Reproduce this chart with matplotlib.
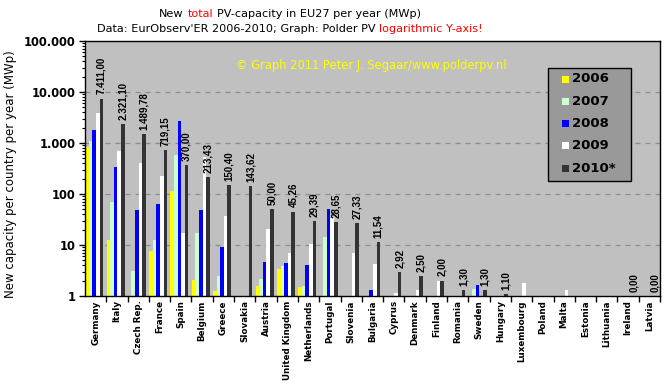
import matplotlib
matplotlib.use("Agg")
import matplotlib.pyplot as plt
import numpy as np
from matplotlib.patches import Rectangle
from matplotlib.ticker import FixedLocator, FixedFormatter, LogLocator, NullFormatter

# ---------------------------------------------------------------------------
# Data (MWp newly installed per year)
# ---------------------------------------------------------------------------
countries = [
    "Germany", "Italy", "Czech Rep.", "France", "Spain", "Belgium", "Greece",
    "Slovakia", "Austria", "United Kingdom", "Netherlands", "Portugal",
    "Slovenia", "Bulgaria", "Cyprus", "Denmark", "Finland", "Romania",
    "Sweden", "Hungary", "Luxembourg", "Poland", "Malta", "Estonia",
    "Lithuania", "Ireland", "Latvia",
]
years = ["2006", "2007", "2008", "2009", "2010*"]
v2006 = [830, 12.5, 0, 7.6, 114, 2.1, 1.27, 0, 1.6, 3.4, 1.5, 0, 0, 0, 0,
         0, 0, 0, 0, 0, 0, 0, 0, 0, 0, 0, 0]
v2007 = [1100, 70, 3.1, 12.5, 580, 17.4, 2.5, 0, 2.15, 3.9, 1.57, 14.4, 0, 0, 0,
         0, 0, 0, 1.37, 0, 0, 0, 0, 0, 0, 0, 0]
v2008 = [1800, 338, 49, 63, 2750, 49, 9.1, 0, 4.6, 4.4, 4.1, 51, 0, 1.3, 0,
         0, 0, 0, 1.64, 0, 0, 0, 0, 0, 0, 0, 0]
v2009 = [3900, 700, 405, 225, 17.4, 520, 37, 0, 20.5, 7.0, 10.4, 34, 7.0, 4.2, 1.15,
         1.3, 1.97, 0, 0, 0, 1.8, 0, 1.3, 0, 0, 0, 0]
# None = no bar and no value label
v2010 = [7411.00, 2321.10, 1489.78, 719.15, 370.00, 213.43, 150.40, 143.62, 50.00,
         45.26, 29.39, 28.65, 27.33, 11.54, 2.92, 2.50, 2.00, 1.30, 1.30, 1.10,
         None, None, None, None, None, 0.00, 0.00]
series = [v2006, v2007, v2008, v2009, v2010]
colors = ["#FFFF00", "#CCFFCC", "#0000FF", "#FFFFFF", "#333333"]

ytick_vals = [1, 10, 100, 1000, 10000, 100000]
ytick_labels = ["1", "10", "100", "1.000", "10.000", "100.000"]


def nl_fmt(v):
    """7411.0 -> '7.411,00' (Dutch number formatting)."""
    s = f"{v:,.2f}"
    return s.replace(",", "#").replace(".", ",").replace("#", ".")


def colored_line(fig, x_center, y, pieces, **kw):
    """One text line built from differently coloured pieces, centred on x."""
    r = fig.canvas.get_renderer()

    def width(s):
        t = fig.text(0, 0, s, **kw)
        w = t.get_window_extent(r).width
        t.remove()
        return w / fig.bbox.width

    full = "".join(p for p, _ in pieces)
    left = x_center - width(full) / 2
    acc = ""
    for s, c in pieces:
        acc += s
        # right end of this piece measured on the running prefix (keeps spaces)
        x = left + width(acc.rstrip()) - width(s.strip())
        fig.text(x, y, s.strip(), color=c, ha="left", va="center", **kw)


# ---------------------------------------------------------------------------
# Figure
# ---------------------------------------------------------------------------
W, H = 671, 391
fig = plt.figure(figsize=(W / 100, H / 100), dpi=100, facecolor="white")
ax = fig.add_axes([85 / W, 1 - 296 / H, (660 - 85) / W, (296 - 41) / H])
ax.set_facecolor("#C0C0C0")
ax.set_yscale("log")
ax.set_ylim(1, 100000)
ax.set_xlim(0, len(countries))

idx = np.arange(len(countries))
bw = 0.17
for j, (vals, col) in enumerate(zip(series, colors)):
    h = np.array([v if v else np.nan for v in vals], dtype=float)
    ax.bar(idx + 0.01 + bw * j, h - 1, bottom=1, width=bw, align="edge",
           color=col, edgecolor="none", zorder=2)

# value labels above 2010 bars
for i, v in enumerate(v2010):
    if v is None:
        continue
    ax.annotate(nl_fmt(v), xy=(i + 0.01 + bw * 4.5, max(v, 1.0)),
                xytext=(0, 3), textcoords="offset points", rotation=90,
                ha="center", va="bottom", fontsize=7, fontweight="bold",
                family="Liberation Sans", zorder=4)

# grid
for g in ytick_vals[1:-1]:
    ax.axhline(g, color="#8C8C8C", lw=0.9, ls=(0, (4, 4)), zorder=1)

# y axis
ax.yaxis.set_major_locator(FixedLocator(ytick_vals))
ax.yaxis.set_major_formatter(FixedFormatter(ytick_labels))
ax.yaxis.set_minor_locator(LogLocator(base=10, subs=np.arange(2, 10)))
ax.yaxis.set_minor_formatter(NullFormatter())
ax.tick_params(axis="y", which="major", length=4, width=1, direction="out",
               labelsize=8.3, pad=3)
ax.tick_params(axis="y", which="minor", length=2.5, width=0.8, direction="out")
for t in ax.get_yticklabels():
    t.set_fontweight("bold")

# x axis: ticks between groups, labels at the centre
ax.set_xticks(np.arange(1, len(countries) + 1))
ax.set_xticklabels([])
ax.set_xticks(idx + 0.5, minor=True)
ax.set_xticklabels(countries, minor=True, rotation=90, fontsize=6.3,
                   fontweight="bold")
ax.tick_params(axis="x", which="major", length=4, width=1, direction="out")
ax.tick_params(axis="x", which="minor", length=0, pad=3)

for sp in ax.spines.values():
    sp.set_linewidth(1)
    sp.set_color("black")

# legend (drawn by hand)
lx0, lx1, ly0, ly1 = 548, 631, 68, 181
ax.add_patch(Rectangle(((lx0 - 85) / 575, (296 - ly1) / 255),
                       (lx1 - lx0) / 575, (ly1 - ly0) / 255,
                       transform=ax.transAxes, facecolor="#999999",
                       edgecolor="black", lw=1, zorder=5))
for k, (lab, col) in enumerate(zip(years, colors)):
    yc = 79 + 22.3 * k
    ax.add_patch(Rectangle(((562 - 85) / 575, (296 - yc - 3.5) / 255),
                           7 / 575, 7 / 255, transform=ax.transAxes,
                           facecolor=col, edgecolor="none", zorder=6))
    ax.text((572 - 85) / 575, (296 - yc) / 255, lab, transform=ax.transAxes,
            fontsize=9.5, fontweight="bold", va="center", ha="left", zorder=6)

# watermark
fig.text(371 / W, 1 - 66 / H, "\u00a9 Graph 2011 Peter J. Segaar/www.polderpv.nl",
         color="#FFFF00", fontsize=8.3, ha="center", va="center")

# y label
fig.text(11 / W, 1 - 174 / H, "New capacity per country per year (MWp)",
         rotation=90, fontsize=8.5, ha="center", va="center")

# titles with red highlights
colored_line(fig, 290 / W, 1 - 14 / H,
             [("New ", "black"), ("total ", "red"),
              ("PV-capacity in EU27 per year (MWp)", "black")], fontsize=8.1)
colored_line(fig, 290 / W, 1 - 29 / H,
             [("Data: EurObserv'ER 2006-2010; Graph: Polder PV ", "black"),
              ("logarithmic Y-axis!", "red")], fontsize=8.1)

fig.savefig("out.png", dpi=100, facecolor="white")
